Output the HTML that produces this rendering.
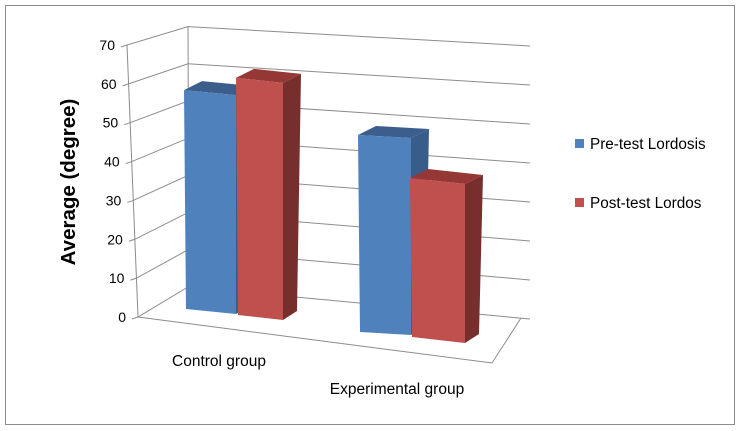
<!DOCTYPE html>
<html><head><meta charset="utf-8"><style>
html,body{margin:0;padding:0;background:#fff;}
svg{display:block;font-family:"Liberation Sans",Calibri,sans-serif;}
</style></head><body>
<svg id="chart" width="741" height="431" viewBox="0 0 741 431">
<rect x="5.5" y="5.5" width="729" height="419" fill="#fff" stroke="#8c8c8c"/>
<g id="grid"></g>
<g id="bars"></g>
<g id="labels"></g>
<text transform="translate(75,182) rotate(-90)" text-anchor="middle" font-size="20.5" font-weight="bold" fill="#000">Average (degree)</text>
<g>
<rect x="575" y="139" width="9" height="9" fill="#4f81bd"/>
<text x="590" y="149" font-size="15.3" fill="#000">Pre-test Lordosis</text>
<rect x="575" y="198" width="9" height="9" fill="#c0504d"/>
<text x="590" y="208" font-size="15.3" fill="#000">Post-test Lordos</text>
</g>
</svg>
<script>
const categories = ["Control group", "Experimental group"];
const preValues = [57, 45.5];
const postValues = [60.5, 33.4];
const yTicks = [0, 10, 20, 30, 40, 50, 60, 70];

const NS = "http://www.w3.org/2000/svg";
function mk(tag, attrs, parent){const e=document.createElementNS(NS,tag);for(const k in attrs)e.setAttribute(k,attrs[k]);parent.appendChild(e);return e;}
const grid=document.getElementById('grid'), bars=document.getElementById('bars'), labels=document.getElementById('labels');
const yMax=70;
function frontPt(v){return [138 - v/yMax*11, 317 - v*3.886];}
function backL(v){return [188, 287 - v*3.72];}
function backR(v){return [530, 319 - v*3.9];}

yTicks.forEach(v=>{
  const f=frontPt(v), bl=backL(v), br=backR(v);
  const g=mk('polyline',{points:`${f[0]-6},${f[1]+2} ${f[0]},${f[1]} ${bl[0]},${bl[1]} ${br[0]},${br[1]}`,fill:'none',stroke:'#8c8c8c','stroke-width':1},grid);
  
  
  const t=mk('text',{x:f[0]-12,y:f[1]+5,'text-anchor':'end','font-size':14,fill:'#000'},labels);
  t.textContent=v;
  
  
});
const f0=frontPt(0), fT=frontPt(yMax), b0=backL(0), bT=backL(yMax);
let ax=mk('line',{x1:fT[0],y1:fT[1],x2:f0[0],y2:f0[1],stroke:'#8c8c8c'},grid);


let bw=mk('line',{x1:bT[0],y1:bT[1],x2:b0[0]+1,y2:b0[1],stroke:'#8c8c8c'},grid);


let fl=mk('polyline',{points:`${f0[0]},${f0[1]} 492,363 521,318`,fill:'none',stroke:'#8c8c8c'},grid);



const geom=[
 [{xl:184,xr:236,bl:309,br:314,s:3.84},{xl:236,xr:283,bl:315,br:320,s:3.92}],
 [{xl:358,xr:411,bl:332,br:335,s:4.33},{xl:410,xr:465,bl:337,br:343,s:4.76}]
];
const cols=[{front:'#4f81bd',top:'#3b5e8c',side:'#385d8a'},{front:'#c0504d',top:'#953735',side:'#772f2d'}];
const DX=18, DY=9;
function drawBar(v,g,c,name){
  const tl=g.bl-v*g.s, tr=g.br-v*g.s;
  const side=mk('polygon',{points:`${g.xr},${tr} ${g.xr+DX},${tr-DY} ${g.xr+DX-4},${g.br-DY} ${g.xr},${g.br}`,fill:c.side},bars);
  
  
  const top=mk('polygon',{points:`${g.xl},${tl} ${g.xr},${tr} ${g.xr+DX},${tr-DY} ${g.xl+DX},${tl-DY}`,fill:c.top},bars);
  
  
  const fr=mk('polygon',{points:`${g.xl},${tl} ${g.xr},${tr} ${g.xr},${g.br} ${g.xl+2},${g.bl}`,fill:c.front},bars);
  
  
}
categories.forEach((cat,i)=>{
  drawBar(preValues[i],geom[i][0],cols[0],'bar-pre-'+i);
  drawBar(postValues[i],geom[i][1],cols[1],'bar-post-'+i);
});
const catPos=[[219,366],[397,394]];
categories.forEach((cat,i)=>{
  const t=mk('text',{x:catPos[i][0],y:catPos[i][1],'text-anchor':'middle','font-size':15.5,fill:'#000'},labels);
  t.textContent=cat;
  
  
});
</script>
</body></html>
